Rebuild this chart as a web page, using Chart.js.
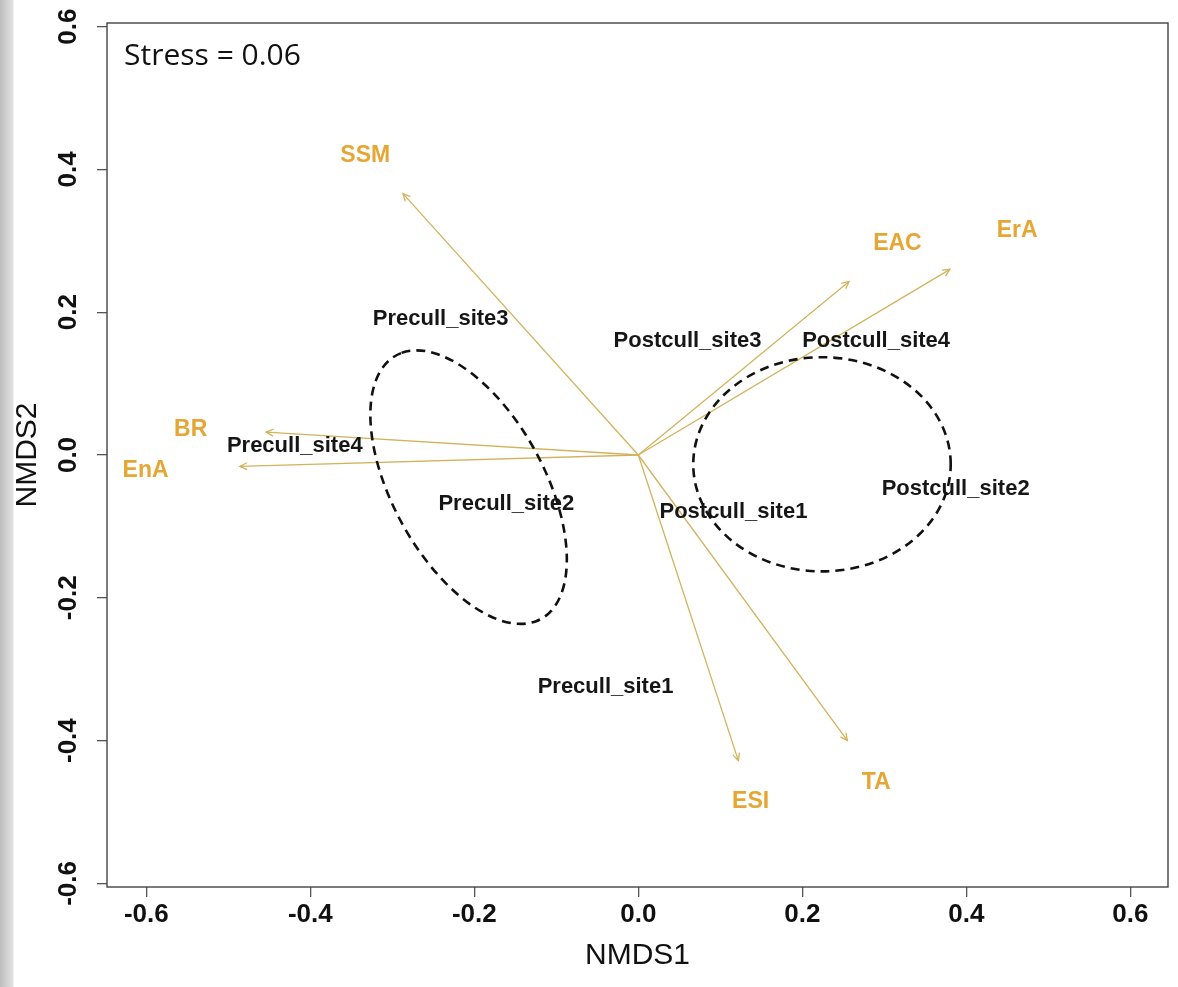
<!DOCTYPE html>
<html>
<head>
<meta charset="utf-8">
<title>NMDS</title>
<script src="https://cdn.jsdelivr.net/npm/chart.js@4.4.1/dist/chart.umd.min.js"></script>
<style>
  html, body {
    margin: 0;
    padding: 0;
  }

  body {
    width: 1178px;
    height: 987px;
    overflow: hidden;
    background: linear-gradient(to right, #bdbdbd 0px, #d4d4d4 8px, #e2e2e2 13px, #ffffff 14px);
  }

  #wrap {
    position: relative;
    width: 1178px;
    height: 987px;
  }
</style>
</head>
<body>
<div id="wrap"><canvas id="chart"></canvas></div>

<script>
const xTicks = [-0.6, -0.4, -0.2, 0.0, 0.2, 0.4, 0.6];
const yTicks = [-0.6, -0.4, -0.2, 0.0, 0.2, 0.4, 0.6];

// site scores, drawn as text
const siteNames = [
  "Precull_site1", "Precull_site2", "Precull_site3", "Precull_site4",
  "Postcull_site1", "Postcull_site2", "Postcull_site3", "Postcull_site4"
];
const siteX = [-0.040, -0.161, -0.241, -0.419, 0.116, 0.387, 0.060, 0.290];
const siteY = [-0.325, -0.069, 0.190, 0.013, -0.080, -0.048, 0.160, 0.160];

// fitted vectors (arrow tips) and where their names sit
const vecNames = ["SSM", "EAC", "ErA", "BR", "EnA", "ESI", "TA"];
const vecX = [-0.287, 0.257, 0.380, -0.454, -0.486, 0.122, 0.255];
const vecY = [0.366, 0.243, 0.260, 0.032, -0.016, -0.428, -0.400];
const vecLabelX = [-0.333, 0.316, 0.462, -0.546, -0.601, 0.137, 0.290];
const vecLabelY = [0.419, 0.296, 0.314, 0.035, -0.022, -0.486, -0.459];

// group ellipses: centre, semi axes, rotation (degrees)
const ellCx = [-0.207, 0.224];
const ellCy = [-0.045, -0.013];
const ellA = [0.205, 0.157];
const ellB = [0.095, 0.150];
const ellAngle = [113.7, 0];

const stressText = "Stress = 0.06";

const FONT = "'Liberation Sans', Arial, sans-serif";
const ARROW_COLOR = "#d2b35c";
const VEC_TEXT = "#e6a634";


function buildDatasets() {
  const datasets = [];

  for (let i = 0; i < vecNames.length; i++) {
    datasets.push({
      label: vecNames[i],
      data: [{ x: 0, y: 0 }, { x: vecX[i], y: vecY[i] }],
      showLine: true,
      borderColor: ARROW_COLOR,
      borderWidth: 1.3,
      pointRadius: 0,
      isVector: true
    });
  }

  datasets.push({
    label: "sites",
    data: siteX.map((x, i) => ({ x: x, y: siteY[i] })),
    showLine: false,
    pointRadius: 0,
    isSites: true
  });

  return datasets;
}


function drawArrowHead(ctx, x0, y0, x1, y1) {
  const ang = Math.atan2(y1 - y0, x1 - x0);
  const len = 8;
  const spread = 0.45;

  ctx.beginPath();
  ctx.moveTo(x1 - len * Math.cos(ang - spread), y1 - len * Math.sin(ang - spread));
  ctx.lineTo(x1, y1);
  ctx.lineTo(x1 - len * Math.cos(ang + spread), y1 - len * Math.sin(ang + spread));
  ctx.stroke();
}


function drawEllipse(ctx, xs, ys, i) {
  const t = ellAngle[i] * Math.PI / 180;
  const cx = ellCx[i];
  const cy = ellCy[i];

  const px = xs.getPixelForValue(cx);
  const py = ys.getPixelForValue(cy);
  const ux = xs.getPixelForValue(cx + ellA[i] * Math.cos(t)) - px;
  const uy = ys.getPixelForValue(cy + ellA[i] * Math.sin(t)) - py;
  const vx = xs.getPixelForValue(cx - ellB[i] * Math.sin(t)) - px;
  const vy = ys.getPixelForValue(cy + ellB[i] * Math.cos(t)) - py;

  ctx.save();
  ctx.beginPath();
  ctx.save();
  ctx.transform(ux, uy, vx, vy, px, py);
  ctx.arc(0, 0, 1, 0, 2 * Math.PI);
  ctx.restore();
  ctx.setLineDash([9, 6]);
  ctx.lineWidth = 2.6;
  ctx.strokeStyle = "#111111";
  ctx.stroke();
  ctx.restore();
}


const ordiPlugin = {
  id: "ordi",

  afterDatasetsDraw(chart) {
    const ctx = chart.ctx;
    const xs = chart.scales.x;
    const ys = chart.scales.y;

    ctx.save();

    // arrow heads
    ctx.strokeStyle = ARROW_COLOR;
    ctx.lineWidth = 1.3;
    chart.data.datasets.forEach((ds, di) => {
      if (!ds.isVector) {
        return;
      }
      const pts = chart.getDatasetMeta(di).data;
      drawArrowHead(ctx, pts[0].x, pts[0].y, pts[1].x, pts[1].y);
    });

    // vector names
    ctx.font = "bold 23px " + FONT;
    ctx.fillStyle = VEC_TEXT;
    ctx.textAlign = "center";
    ctx.textBaseline = "middle";
    for (let i = 0; i < vecNames.length; i++) {
      ctx.fillText(vecNames[i], xs.getPixelForValue(vecLabelX[i]), ys.getPixelForValue(vecLabelY[i]));
    }

    // site names
    ctx.font = "bold 22px " + FONT;
    ctx.fillStyle = "#161616";
    chart.data.datasets.forEach((ds, di) => {
      if (!ds.isSites) {
        return;
      }
      chart.getDatasetMeta(di).data.forEach((pt, i) => {
        ctx.fillText(siteNames[i], pt.x, pt.y);
      });
    });

    ctx.restore();

    for (let i = 0; i < ellCx.length; i++) {
      drawEllipse(ctx, xs, ys, i);
    }

    // stress note and box
    const area = chart.chartArea;
    ctx.save();
    ctx.font = "30px 'Open Sans', 'Noto Sans', sans-serif";
    ctx.fillStyle = "#111111";
    ctx.textAlign = "left";
    ctx.textBaseline = "alphabetic";
    ctx.fillText(stressText, area.left + 17, area.top + 42);

    ctx.strokeStyle = "#444444";
    ctx.lineWidth = 1.4;
    ctx.strokeRect(area.left, area.top, area.right - area.left, area.bottom - area.top);
    ctx.restore();
  }
};


function renderChart() {
  const canvas = document.getElementById("chart");
  const ctx = canvas.getContext("2d");

  new Chart(ctx, {
    type: "scatter",
    data: {
      datasets: buildDatasets()
    },
    plugins: [ordiPlugin],
    options: {
      responsive: true,
      maintainAspectRatio: false,
      animation: false,
      layout: {
        padding: { top: 23, right: 10, left: 0, bottom: 0 }
      },
      plugins: {
        legend: { display: false },
        tooltip: { enabled: false }
      },
      scales: {
        x: {
          type: "linear",
          min: -0.648,
          max: 0.646,
          afterBuildTicks: (scale) => {
            scale.ticks = xTicks.map(v => ({ value: v }));
          },
          afterFit: (scale) => {
            scale.height = 100;
          },
          border: { display: false },
          grid: {
            drawOnChartArea: false,
            drawTicks: true,
            tickLength: 10,
            color: "#555555",
            lineWidth: 1.3
          },
          ticks: {
            padding: 2,
            color: "#111111",
            font: { family: FONT, size: 26, weight: "bold" },
            callback: (v) => Number(v).toFixed(1)
          },
          title: {
            display: true,
            text: "NMDS1",
            color: "#111111",
            font: { family: FONT, size: 30 },
            padding: { top: 0, bottom: 13 }
          }
        },
        y: {
          type: "linear",
          min: -0.605,
          max: 0.605,
          afterBuildTicks: (scale) => {
            scale.ticks = yTicks.map(v => ({ value: v }));
          },
          afterFit: (scale) => {
            scale.width = 107;
          },
          border: { display: false },
          grid: {
            drawOnChartArea: false,
            drawTicks: true,
            tickLength: 10,
            color: "#555555",
            lineWidth: 1.3
          },
          ticks: {
            padding: 6,
            minRotation: 90,
            maxRotation: 90,
            crossAlign: "center",
            color: "#111111",
            font: { family: FONT, size: 26, weight: "bold" },
            callback: (v) => Number(v).toFixed(1)
          },
          title: {
            display: true,
            text: "NMDS2",
            color: "#111111",
            font: { family: FONT, size: 30 },
            padding: { top: 10, bottom: 0 }
          }
        }
      }
    }
  });
}


document.addEventListener("DOMContentLoaded", renderChart);
</script>
</body>
</html>
